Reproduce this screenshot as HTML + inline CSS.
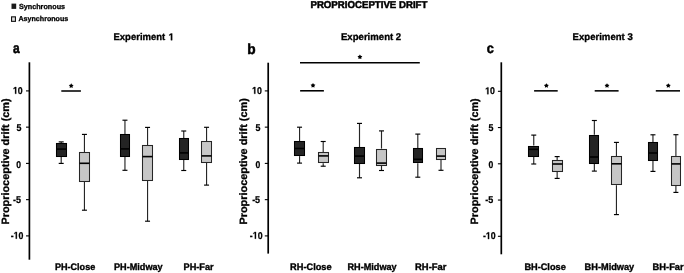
<!DOCTYPE html>
<html><head><meta charset="utf-8"><style>
html,body{margin:0;padding:0;background:#fff;}
body{width:684px;height:273px;overflow:hidden;font-family:"Liberation Sans",sans-serif;}
svg{display:block;will-change:transform;text-rendering:geometricPrecision;}
</style></head><body>
<svg width="684" height="273" viewBox="0 0 684 273">
<rect width="684" height="273" fill="#fff"/>
<line x1="61.2" y1="141.9" x2="61.2" y2="143.3" stroke="#262626" stroke-width="1.15"/>
<line x1="58.7" y1="141.9" x2="63.7" y2="141.9" stroke="#000" stroke-width="1.15"/>
<line x1="61.2" y1="156.8" x2="61.2" y2="163.4" stroke="#262626" stroke-width="1.15"/>
<line x1="58.7" y1="163.4" x2="63.7" y2="163.4" stroke="#000" stroke-width="1.15"/>
<rect x="56.5" y="143.5" width="10" height="13" fill="#242424" stroke="#000" stroke-width="1.05"/>
<line x1="56.5" y1="149.1" x2="66.5" y2="149.1" stroke="#000" stroke-width="1.6"/>
<line x1="84.45" y1="134.4" x2="84.45" y2="152.2" stroke="#262626" stroke-width="1.15"/>
<line x1="81.95" y1="134.4" x2="86.95" y2="134.4" stroke="#000" stroke-width="1.15"/>
<line x1="84.45" y1="181.4" x2="84.45" y2="210.2" stroke="#262626" stroke-width="1.15"/>
<line x1="81.95" y1="210.2" x2="86.95" y2="210.2" stroke="#000" stroke-width="1.15"/>
<rect x="79.5" y="152.5" width="10" height="29" fill="#c6c6c6" stroke="#262626" stroke-width="1.05"/>
<line x1="79.5" y1="163.3" x2="89.5" y2="163.3" stroke="#000" stroke-width="1.6"/>
<line x1="124.95" y1="120.2" x2="124.95" y2="134" stroke="#262626" stroke-width="1.15"/>
<line x1="122.45" y1="120.2" x2="127.45" y2="120.2" stroke="#000" stroke-width="1.15"/>
<line x1="124.95" y1="156.8" x2="124.95" y2="170.3" stroke="#262626" stroke-width="1.15"/>
<line x1="122.45" y1="170.3" x2="127.45" y2="170.3" stroke="#000" stroke-width="1.15"/>
<rect x="120.5" y="134.5" width="9" height="22" fill="#242424" stroke="#000" stroke-width="1.05"/>
<line x1="120.5" y1="148.9" x2="129.5" y2="148.9" stroke="#000" stroke-width="1.6"/>
<line x1="147.55" y1="127.4" x2="147.55" y2="145.2" stroke="#262626" stroke-width="1.15"/>
<line x1="145.05" y1="127.4" x2="150.05" y2="127.4" stroke="#000" stroke-width="1.15"/>
<line x1="147.55" y1="180.4" x2="147.55" y2="221.2" stroke="#262626" stroke-width="1.15"/>
<line x1="145.05" y1="221.2" x2="150.05" y2="221.2" stroke="#000" stroke-width="1.15"/>
<rect x="142.5" y="145.5" width="10" height="35" fill="#c6c6c6" stroke="#262626" stroke-width="1.05"/>
<line x1="142.5" y1="156.6" x2="152.5" y2="156.6" stroke="#000" stroke-width="1.6"/>
<line x1="183.75" y1="131" x2="183.75" y2="138" stroke="#262626" stroke-width="1.15"/>
<line x1="181.25" y1="131" x2="186.25" y2="131" stroke="#000" stroke-width="1.15"/>
<line x1="183.75" y1="160.1" x2="183.75" y2="170.5" stroke="#262626" stroke-width="1.15"/>
<line x1="181.25" y1="170.5" x2="186.25" y2="170.5" stroke="#000" stroke-width="1.15"/>
<rect x="179.5" y="138.5" width="9" height="21" fill="#242424" stroke="#000" stroke-width="1.05"/>
<line x1="179.5" y1="152.9" x2="188.5" y2="152.9" stroke="#000" stroke-width="1.6"/>
<line x1="206.55" y1="127.3" x2="206.55" y2="141.4" stroke="#262626" stroke-width="1.15"/>
<line x1="204.05" y1="127.3" x2="209.05" y2="127.3" stroke="#000" stroke-width="1.15"/>
<line x1="206.55" y1="163" x2="206.55" y2="185.1" stroke="#262626" stroke-width="1.15"/>
<line x1="204.05" y1="185.1" x2="209.05" y2="185.1" stroke="#000" stroke-width="1.15"/>
<rect x="201.5" y="141.5" width="10" height="21" fill="#c6c6c6" stroke="#262626" stroke-width="1.05"/>
<line x1="201.5" y1="155.9" x2="211.5" y2="155.9" stroke="#000" stroke-width="1.6"/>
<line x1="299.55" y1="127.2" x2="299.55" y2="141.1" stroke="#262626" stroke-width="1.15"/>
<line x1="297.05" y1="127.2" x2="302.05" y2="127.2" stroke="#000" stroke-width="1.15"/>
<line x1="299.55" y1="156.1" x2="299.55" y2="163.1" stroke="#262626" stroke-width="1.15"/>
<line x1="297.05" y1="163.1" x2="302.05" y2="163.1" stroke="#000" stroke-width="1.15"/>
<rect x="294.5" y="141.5" width="10" height="14" fill="#242424" stroke="#000" stroke-width="1.05"/>
<line x1="294.5" y1="148.5" x2="304.5" y2="148.5" stroke="#000" stroke-width="1.6"/>
<line x1="323.2" y1="141.5" x2="323.2" y2="152" stroke="#262626" stroke-width="1.15"/>
<line x1="320.7" y1="141.5" x2="325.7" y2="141.5" stroke="#000" stroke-width="1.15"/>
<line x1="323.2" y1="163.2" x2="323.2" y2="166.2" stroke="#262626" stroke-width="1.15"/>
<line x1="320.7" y1="166.2" x2="325.7" y2="166.2" stroke="#000" stroke-width="1.15"/>
<rect x="318.5" y="152.5" width="10" height="10" fill="#c6c6c6" stroke="#262626" stroke-width="1.05"/>
<line x1="318.5" y1="155.9" x2="328.5" y2="155.9" stroke="#000" stroke-width="1.6"/>
<line x1="359.5" y1="123.4" x2="359.5" y2="147" stroke="#262626" stroke-width="1.15"/>
<line x1="357" y1="123.4" x2="362" y2="123.4" stroke="#000" stroke-width="1.15"/>
<line x1="359.5" y1="163.4" x2="359.5" y2="177.8" stroke="#262626" stroke-width="1.15"/>
<line x1="357" y1="177.8" x2="362" y2="177.8" stroke="#000" stroke-width="1.15"/>
<rect x="354.5" y="147.5" width="10" height="16" fill="#242424" stroke="#000" stroke-width="1.05"/>
<line x1="354.5" y1="156.1" x2="364.5" y2="156.1" stroke="#000" stroke-width="1.6"/>
<line x1="381.5" y1="130.9" x2="381.5" y2="148.6" stroke="#262626" stroke-width="1.15"/>
<line x1="379" y1="130.9" x2="384" y2="130.9" stroke="#000" stroke-width="1.15"/>
<line x1="381.5" y1="165.9" x2="381.5" y2="170.5" stroke="#262626" stroke-width="1.15"/>
<line x1="379" y1="170.5" x2="384" y2="170.5" stroke="#000" stroke-width="1.15"/>
<rect x="376.5" y="149.5" width="10" height="16" fill="#c6c6c6" stroke="#262626" stroke-width="1.05"/>
<line x1="376.5" y1="163.1" x2="386.5" y2="163.1" stroke="#000" stroke-width="1.6"/>
<line x1="417.8" y1="134.1" x2="417.8" y2="148" stroke="#262626" stroke-width="1.15"/>
<line x1="415.3" y1="134.1" x2="420.3" y2="134.1" stroke="#000" stroke-width="1.15"/>
<line x1="417.8" y1="163.3" x2="417.8" y2="177.2" stroke="#262626" stroke-width="1.15"/>
<line x1="415.3" y1="177.2" x2="420.3" y2="177.2" stroke="#000" stroke-width="1.15"/>
<rect x="413.5" y="148.5" width="9" height="14" fill="#242424" stroke="#000" stroke-width="1.05"/>
<line x1="413.5" y1="159.3" x2="422.5" y2="159.3" stroke="#000" stroke-width="1.6"/>
<line x1="441" y1="159.7" x2="441" y2="170.3" stroke="#262626" stroke-width="1.15"/>
<line x1="438.5" y1="170.3" x2="443.5" y2="170.3" stroke="#000" stroke-width="1.15"/>
<rect x="436.5" y="148.5" width="9" height="11" fill="#c6c6c6" stroke="#262626" stroke-width="1.05"/>
<line x1="436.5" y1="156.1" x2="445.5" y2="156.1" stroke="#000" stroke-width="1.6"/>
<line x1="533.75" y1="135.1" x2="533.75" y2="145.6" stroke="#262626" stroke-width="1.15"/>
<line x1="531.25" y1="135.1" x2="536.25" y2="135.1" stroke="#000" stroke-width="1.15"/>
<line x1="533.75" y1="156.4" x2="533.75" y2="164" stroke="#262626" stroke-width="1.15"/>
<line x1="531.25" y1="164" x2="536.25" y2="164" stroke="#000" stroke-width="1.15"/>
<rect x="528.5" y="146.5" width="10" height="10" fill="#242424" stroke="#000" stroke-width="1.05"/>
<line x1="528.5" y1="149.3" x2="538.5" y2="149.3" stroke="#000" stroke-width="1.6"/>
<line x1="557.15" y1="156.6" x2="557.15" y2="160" stroke="#262626" stroke-width="1.15"/>
<line x1="554.65" y1="156.6" x2="559.65" y2="156.6" stroke="#000" stroke-width="1.15"/>
<line x1="557.15" y1="171.8" x2="557.15" y2="178.4" stroke="#262626" stroke-width="1.15"/>
<line x1="554.65" y1="178.4" x2="559.65" y2="178.4" stroke="#000" stroke-width="1.15"/>
<rect x="552.5" y="160.5" width="10" height="11" fill="#c6c6c6" stroke="#262626" stroke-width="1.05"/>
<line x1="552.5" y1="164" x2="562.5" y2="164" stroke="#000" stroke-width="1.6"/>
<line x1="594.35" y1="120.5" x2="594.35" y2="134.7" stroke="#262626" stroke-width="1.15"/>
<line x1="591.85" y1="120.5" x2="596.85" y2="120.5" stroke="#000" stroke-width="1.15"/>
<line x1="594.35" y1="163.8" x2="594.35" y2="171.1" stroke="#262626" stroke-width="1.15"/>
<line x1="591.85" y1="171.1" x2="596.85" y2="171.1" stroke="#000" stroke-width="1.15"/>
<rect x="589.5" y="135.5" width="9" height="28" fill="#242424" stroke="#000" stroke-width="1.05"/>
<line x1="589.5" y1="157" x2="598.5" y2="157" stroke="#000" stroke-width="1.6"/>
<line x1="616.45" y1="142.4" x2="616.45" y2="156.4" stroke="#262626" stroke-width="1.15"/>
<line x1="613.95" y1="142.4" x2="618.95" y2="142.4" stroke="#000" stroke-width="1.15"/>
<line x1="616.45" y1="185.2" x2="616.45" y2="214.6" stroke="#262626" stroke-width="1.15"/>
<line x1="613.95" y1="214.6" x2="618.95" y2="214.6" stroke="#000" stroke-width="1.15"/>
<rect x="611.5" y="156.5" width="10" height="28" fill="#c6c6c6" stroke="#262626" stroke-width="1.05"/>
<line x1="611.5" y1="163.8" x2="621.5" y2="163.8" stroke="#000" stroke-width="1.6"/>
<line x1="652.95" y1="134.8" x2="652.95" y2="142" stroke="#262626" stroke-width="1.15"/>
<line x1="650.45" y1="134.8" x2="655.45" y2="134.8" stroke="#000" stroke-width="1.15"/>
<line x1="652.95" y1="160.4" x2="652.95" y2="171.4" stroke="#262626" stroke-width="1.15"/>
<line x1="650.45" y1="171.4" x2="655.45" y2="171.4" stroke="#000" stroke-width="1.15"/>
<rect x="648.5" y="142.5" width="9" height="18" fill="#242424" stroke="#000" stroke-width="1.05"/>
<line x1="648.5" y1="153" x2="657.5" y2="153" stroke="#000" stroke-width="1.6"/>
<line x1="675.9" y1="134.7" x2="675.9" y2="156" stroke="#262626" stroke-width="1.15"/>
<line x1="673.4" y1="134.7" x2="678.4" y2="134.7" stroke="#000" stroke-width="1.15"/>
<line x1="675.9" y1="185.7" x2="675.9" y2="192.4" stroke="#262626" stroke-width="1.15"/>
<line x1="673.4" y1="192.4" x2="678.4" y2="192.4" stroke="#000" stroke-width="1.15"/>
<rect x="671.5" y="156.5" width="9" height="29" fill="#c6c6c6" stroke="#262626" stroke-width="1.05"/>
<line x1="671.5" y1="163.9" x2="680.5" y2="163.9" stroke="#000" stroke-width="1.6"/>
<line x1="61.3" y1="91" x2="80.9" y2="91" stroke="#000" stroke-width="1.55"/>
<polygon points="71.2,83.35 72.02,84.77 73.63,85.11 72.53,86.33 72.7,87.96 71.2,87.3 69.7,87.96 69.87,86.33 68.77,85.11 70.38,84.77" fill="#000"/>
<line x1="300" y1="62.7" x2="419.8" y2="62.7" stroke="#000" stroke-width="1.55"/>
<polygon points="359.9,54.45 360.72,55.87 362.33,56.21 361.23,57.43 361.4,59.06 359.9,58.4 358.4,59.06 358.57,57.43 357.47,56.21 359.08,55.87" fill="#000"/>
<line x1="300.1" y1="90.8" x2="323.9" y2="90.8" stroke="#000" stroke-width="1.55"/>
<polygon points="313,82.95 313.82,84.37 315.43,84.71 314.33,85.93 314.5,87.56 313,86.9 311.5,87.56 311.67,85.93 310.57,84.71 312.18,84.37" fill="#000"/>
<line x1="534.1" y1="90.85" x2="557.7" y2="90.85" stroke="#000" stroke-width="1.55"/>
<polygon points="546.4,83.15 547.22,84.57 548.83,84.91 547.73,86.13 547.9,87.76 546.4,87.1 544.9,87.76 545.07,86.13 543.97,84.91 545.58,84.57" fill="#000"/>
<line x1="594.7" y1="90.85" x2="618.6" y2="90.85" stroke="#000" stroke-width="1.55"/>
<polygon points="607,83.15 607.82,84.57 609.43,84.91 608.33,86.13 608.5,87.76 607,87.1 605.5,87.76 605.67,86.13 604.57,84.91 606.18,84.57" fill="#000"/>
<line x1="655.8" y1="90.85" x2="680" y2="90.85" stroke="#000" stroke-width="1.55"/>
<polygon points="668.3,83.15 669.12,84.57 670.73,84.91 669.63,86.13 669.8,87.76 668.3,87.1 666.8,87.76 666.97,86.13 665.87,84.91 667.48,84.57" fill="#000"/>
<line x1="29.4" y1="62.3" x2="29.4" y2="259.7" stroke="#000" stroke-width="1.7"/>
<line x1="26" y1="90.9" x2="29.4" y2="90.9" stroke="#000" stroke-width="1.1"/>
<path transform="translate(13,93.8) scale(0.004281,-0.004834)" d="M478 0L478 1170L140 959L140 1180L493 1409L759 1409L759 0Z" fill="#000" stroke="#000" stroke-width="58.39" stroke-linejoin="miter" vector-effect="none"/>
<text x="13" y="93.8" font-size="9.9" textLength="9.75" lengthAdjust="spacingAndGlyphs" font-family="Liberation Sans, sans-serif" font-weight="bold" stroke="#000" stroke-width="0.25"> 0</text>
<line x1="26" y1="127.15" x2="29.4" y2="127.15" stroke="#000" stroke-width="1.1"/>
<text x="16.42" y="130.9" font-size="9.9" textLength="4.93" lengthAdjust="spacingAndGlyphs" font-family="Liberation Sans, sans-serif" font-weight="bold" stroke="#000" stroke-width="0.25">5</text>
<line x1="26" y1="163.4" x2="29.4" y2="163.4" stroke="#000" stroke-width="1.1"/>
<text x="16.36" y="167.5" font-size="9.9" textLength="4.79" lengthAdjust="spacingAndGlyphs" font-family="Liberation Sans, sans-serif" font-weight="bold" stroke="#000" stroke-width="0.25">0</text>
<line x1="26" y1="199.65" x2="29.4" y2="199.65" stroke="#000" stroke-width="1.1"/>
<text x="13.04" y="202.7" font-size="9.9" textLength="8" lengthAdjust="spacingAndGlyphs" font-family="Liberation Sans, sans-serif" font-weight="bold" stroke="#000" stroke-width="0.25">-5</text>
<line x1="26" y1="235.9" x2="29.4" y2="235.9" stroke="#000" stroke-width="1.1"/>
<path transform="translate(13.67,238.7) scale(0.004289,-0.004834)" d="M478 0L478 1170L140 959L140 1180L493 1409L759 1409L759 0Z" fill="#000" stroke="#000" stroke-width="58.28" stroke-linejoin="miter" vector-effect="none"/>
<text x="10.75" y="238.7" font-size="9.9" textLength="12.7" lengthAdjust="spacingAndGlyphs" font-family="Liberation Sans, sans-serif" font-weight="bold" stroke="#000" stroke-width="0.25">- 0</text>
<line x1="268.2" y1="62.7" x2="268.2" y2="253.6" stroke="#000" stroke-width="1.7"/>
<line x1="264.8" y1="90.9" x2="268.2" y2="90.9" stroke="#000" stroke-width="1.1"/>
<path transform="translate(252.1,93.8) scale(0.004281,-0.004834)" d="M478 0L478 1170L140 959L140 1180L493 1409L759 1409L759 0Z" fill="#000" stroke="#000" stroke-width="58.39" stroke-linejoin="miter" vector-effect="none"/>
<text x="252.1" y="93.8" font-size="9.9" textLength="9.75" lengthAdjust="spacingAndGlyphs" font-family="Liberation Sans, sans-serif" font-weight="bold" stroke="#000" stroke-width="0.25"> 0</text>
<line x1="264.8" y1="127.15" x2="268.2" y2="127.15" stroke="#000" stroke-width="1.1"/>
<text x="255.52" y="130.9" font-size="9.9" textLength="4.93" lengthAdjust="spacingAndGlyphs" font-family="Liberation Sans, sans-serif" font-weight="bold" stroke="#000" stroke-width="0.25">5</text>
<line x1="264.8" y1="163.4" x2="268.2" y2="163.4" stroke="#000" stroke-width="1.1"/>
<text x="255.46" y="167.5" font-size="9.9" textLength="4.79" lengthAdjust="spacingAndGlyphs" font-family="Liberation Sans, sans-serif" font-weight="bold" stroke="#000" stroke-width="0.25">0</text>
<line x1="264.8" y1="199.65" x2="268.2" y2="199.65" stroke="#000" stroke-width="1.1"/>
<text x="252.14" y="202.7" font-size="9.9" textLength="8" lengthAdjust="spacingAndGlyphs" font-family="Liberation Sans, sans-serif" font-weight="bold" stroke="#000" stroke-width="0.25">-5</text>
<line x1="264.8" y1="235.9" x2="268.2" y2="235.9" stroke="#000" stroke-width="1.1"/>
<path transform="translate(252.77,238.7) scale(0.004289,-0.004834)" d="M478 0L478 1170L140 959L140 1180L493 1409L759 1409L759 0Z" fill="#000" stroke="#000" stroke-width="58.28" stroke-linejoin="miter" vector-effect="none"/>
<text x="249.85" y="238.7" font-size="9.9" textLength="12.7" lengthAdjust="spacingAndGlyphs" font-family="Liberation Sans, sans-serif" font-weight="bold" stroke="#000" stroke-width="0.25">- 0</text>
<line x1="501.3" y1="62.3" x2="501.3" y2="254.3" stroke="#000" stroke-width="1.7"/>
<line x1="497.9" y1="91.3" x2="501.3" y2="91.3" stroke="#000" stroke-width="1.1"/>
<path transform="translate(485.2,94.2) scale(0.004281,-0.004834)" d="M478 0L478 1170L140 959L140 1180L493 1409L759 1409L759 0Z" fill="#000" stroke="#000" stroke-width="58.39" stroke-linejoin="miter" vector-effect="none"/>
<text x="485.2" y="94.2" font-size="9.9" textLength="9.75" lengthAdjust="spacingAndGlyphs" font-family="Liberation Sans, sans-serif" font-weight="bold" stroke="#000" stroke-width="0.25"> 0</text>
<line x1="497.9" y1="127.55" x2="501.3" y2="127.55" stroke="#000" stroke-width="1.1"/>
<text x="488.62" y="131.3" font-size="9.9" textLength="4.93" lengthAdjust="spacingAndGlyphs" font-family="Liberation Sans, sans-serif" font-weight="bold" stroke="#000" stroke-width="0.25">5</text>
<line x1="497.9" y1="163.8" x2="501.3" y2="163.8" stroke="#000" stroke-width="1.1"/>
<text x="488.56" y="167.9" font-size="9.9" textLength="4.79" lengthAdjust="spacingAndGlyphs" font-family="Liberation Sans, sans-serif" font-weight="bold" stroke="#000" stroke-width="0.25">0</text>
<line x1="497.9" y1="200.05" x2="501.3" y2="200.05" stroke="#000" stroke-width="1.1"/>
<text x="485.24" y="203.1" font-size="9.9" textLength="8" lengthAdjust="spacingAndGlyphs" font-family="Liberation Sans, sans-serif" font-weight="bold" stroke="#000" stroke-width="0.25">-5</text>
<line x1="497.9" y1="236.3" x2="501.3" y2="236.3" stroke="#000" stroke-width="1.1"/>
<path transform="translate(485.87,239.1) scale(0.004289,-0.004834)" d="M478 0L478 1170L140 959L140 1180L493 1409L759 1409L759 0Z" fill="#000" stroke="#000" stroke-width="58.28" stroke-linejoin="miter" vector-effect="none"/>
<text x="482.95" y="239.1" font-size="9.9" textLength="12.7" lengthAdjust="spacingAndGlyphs" font-family="Liberation Sans, sans-serif" font-weight="bold" stroke="#000" stroke-width="0.25">- 0</text>
<text transform="translate(8.5,223.8) rotate(-90)" x="-0.72" y="0" font-size="10.6" textLength="126.15" lengthAdjust="spacingAndGlyphs" font-family="Liberation Sans, sans-serif" font-weight="bold" stroke="#000" stroke-width="0.3">Proprioceptive drift (cm)</text>
<text transform="translate(246.5,223.8) rotate(-90)" x="-0.72" y="0" font-size="10.6" textLength="126.35" lengthAdjust="spacingAndGlyphs" font-family="Liberation Sans, sans-serif" font-weight="bold" stroke="#000" stroke-width="0.3">Proprioceptive drift (cm)</text>
<text transform="translate(478.3,223.7) rotate(-90)" x="-0.72" y="0" font-size="10.6" textLength="126.15" lengthAdjust="spacingAndGlyphs" font-family="Liberation Sans, sans-serif" font-weight="bold" stroke="#000" stroke-width="0.3">Proprioceptive drift (cm)</text>
<text x="12.94" y="52.6" font-size="14.6" textLength="6.69" lengthAdjust="spacingAndGlyphs" font-family="Liberation Sans, sans-serif" font-weight="bold" stroke="#000" stroke-width="0.5">a</text>
<text x="247.2" y="53.7" font-size="14.5" textLength="8.36" lengthAdjust="spacingAndGlyphs" font-family="Liberation Sans, sans-serif" font-weight="bold" stroke="#000" stroke-width="0.5">b</text>
<text x="486.79" y="52.6" font-size="14" textLength="7.09" lengthAdjust="spacingAndGlyphs" font-family="Liberation Sans, sans-serif" font-weight="bold" stroke="#000" stroke-width="0.5">c</text>
<path transform="translate(168.68,40.2) scale(0.004641,-0.004736)" d="M478 0L478 1170L140 959L140 1180L493 1409L759 1409L759 0Z" fill="#000" stroke="#000" stroke-width="68.95" stroke-linejoin="miter" vector-effect="none"/>
<text x="113.47" y="40.2" font-size="9.7" textLength="59.7" lengthAdjust="spacingAndGlyphs" font-family="Liberation Sans, sans-serif" font-weight="bold" stroke="#000" stroke-width="0.32">Experiment  </text>
<text x="340.97" y="40.2" font-size="9.7" textLength="60.22" lengthAdjust="spacingAndGlyphs" font-family="Liberation Sans, sans-serif" font-weight="bold" stroke="#000" stroke-width="0.32">Experiment 2</text>
<text x="572.57" y="40.2" font-size="9.7" textLength="60.18" lengthAdjust="spacingAndGlyphs" font-family="Liberation Sans, sans-serif" font-weight="bold" stroke="#000" stroke-width="0.32">Experiment 3</text>
<text x="310.46" y="7.8" font-size="9.9" textLength="116.94" lengthAdjust="spacingAndGlyphs" font-family="Liberation Sans, sans-serif" font-weight="bold" stroke="#000" stroke-width="0.5">PROPRIOCEPTIVE DRIFT</text>
<rect x="11.5" y="3.6" width="4.7" height="5.3" fill="#1a1a1a"/>
<rect x="11.55" y="16.85" width="3.9" height="4.5" fill="#dedede" stroke="#111" stroke-width="1.1"/>
<text x="18.98" y="8.9" font-size="7.4" textLength="46.1" lengthAdjust="spacingAndGlyphs" font-family="Liberation Sans, sans-serif" font-weight="bold" stroke="#000" stroke-width="0.28">Synchronous</text>
<text x="18.41" y="20.6" font-size="7.2" textLength="49.88" lengthAdjust="spacingAndGlyphs" font-family="Liberation Sans, sans-serif" font-weight="bold" stroke="#000" stroke-width="0.28">Asynchronous</text>
<text x="54.9" y="270.4" font-size="9.4" textLength="40.4" lengthAdjust="spacingAndGlyphs" font-family="Liberation Sans, sans-serif" font-weight="bold" stroke="#000" stroke-width="0.35">PH-Close</text>
<text x="114" y="270.4" font-size="9.4" textLength="48.66" lengthAdjust="spacingAndGlyphs" font-family="Liberation Sans, sans-serif" font-weight="bold" stroke="#000" stroke-width="0.35">PH-Midway</text>
<text x="183.6" y="270.4" font-size="9.4" textLength="30.04" lengthAdjust="spacingAndGlyphs" font-family="Liberation Sans, sans-serif" font-weight="bold" stroke="#000" stroke-width="0.35">PH-Far</text>
<text x="290.09" y="270.4" font-size="9.4" textLength="41.53" lengthAdjust="spacingAndGlyphs" font-family="Liberation Sans, sans-serif" font-weight="bold" stroke="#000" stroke-width="0.35">RH-Close</text>
<text x="347.5" y="270.4" font-size="9.4" textLength="49.15" lengthAdjust="spacingAndGlyphs" font-family="Liberation Sans, sans-serif" font-weight="bold" stroke="#000" stroke-width="0.35">RH-Midway</text>
<text x="415.08" y="270.4" font-size="9.4" textLength="31.37" lengthAdjust="spacingAndGlyphs" font-family="Liberation Sans, sans-serif" font-weight="bold" stroke="#000" stroke-width="0.35">RH-Far</text>
<text x="524.39" y="270.4" font-size="9.4" textLength="41.42" lengthAdjust="spacingAndGlyphs" font-family="Liberation Sans, sans-serif" font-weight="bold" stroke="#000" stroke-width="0.35">BH-Close</text>
<text x="584.59" y="270.4" font-size="9.4" textLength="49.66" lengthAdjust="spacingAndGlyphs" font-family="Liberation Sans, sans-serif" font-weight="bold" stroke="#000" stroke-width="0.35">BH-Midway</text>
<text x="652.59" y="270.4" font-size="9.4" textLength="31.06" lengthAdjust="spacingAndGlyphs" font-family="Liberation Sans, sans-serif" font-weight="bold" stroke="#000" stroke-width="0.35">BH-Far</text>
</svg>
</body></html>
